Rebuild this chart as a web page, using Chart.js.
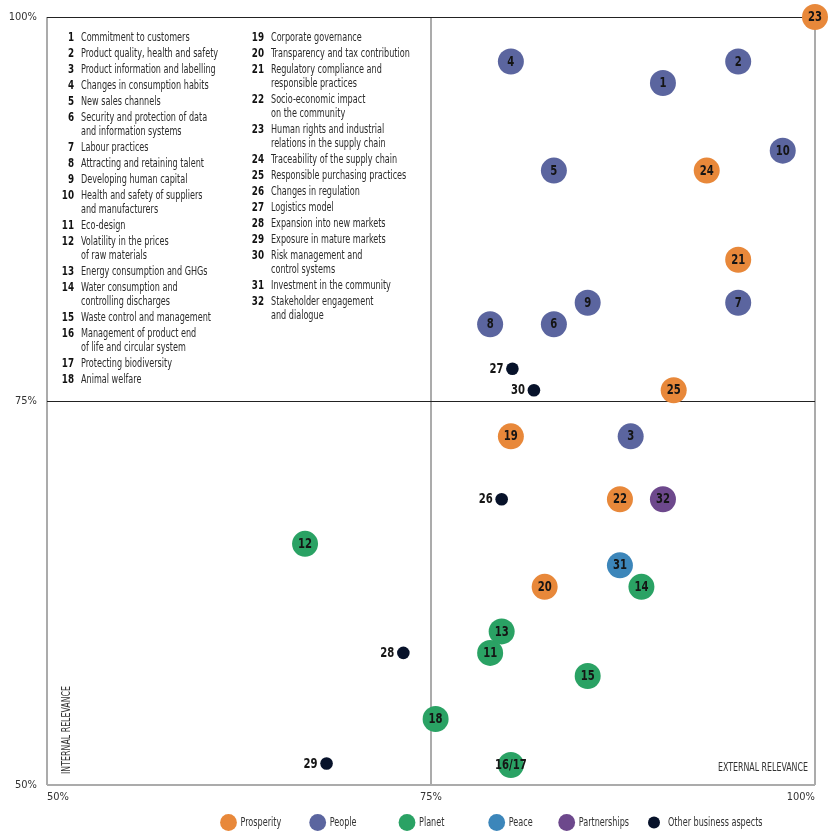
<!DOCTYPE html>
<html><head><meta charset="utf-8">
<script src="https://cdn.jsdelivr.net/npm/chart.js@4.4.1/dist/chart.umd.min.js"></script>
<style>html,body{margin:0;padding:0;background:#fff}#wrap{width:838px;height:838px;position:relative}</style>
</head><body><div id="wrap"><canvas id="c" width="838" height="838"></canvas></div>
<script>
const FONT = "'Liberation Sans Narrow','DejaVu Sans Condensed','Liberation Sans',sans-serif";

// ---- data ----
const groupNames = ['Prosperity','People','Planet','Peace','Partnerships','Other business aspects'];
const groupColors = ['#E8883A','#5B659F','#2AA264','#3C86BA','#6D488C','#07122A'];

const pointIds = ['1','2','3','4','5','6','7','8','9','10','11','12','13','14','15','16/17','18','19','20','21','22','23','24','25','26','27','28','29','30','31','32'];
const externalRel = [90.1,95.0,88.0,80.2,83.0,83.0,95.0,78.85,85.2,97.9,78.85,66.8,79.6,88.7,85.2,80.2,75.3,80.2,82.4,95.0,87.3,100,92.95,90.8,79.6,80.3,73.2,68.2,81.7,87.3,90.1];
const internalRel = [95.7,97.1,72.7,97.1,90.0,80.0,81.4,80.0,81.4,91.3,58.6,65.7,60.0,62.9,57.1,51.3,54.3,72.7,62.9,84.2,68.6,100,90.0,75.7,68.6,77.1,58.6,51.4,75.7,64.3,68.6];
const pointGroup = [1,1,1,1,1,1,1,1,1,1,2,2,2,2,2,2,2,0,0,0,0,0,0,0,5,5,5,5,5,3,4];

const axisTicks = [50,75,100];

const keyNums = ['1','2','3','4','5','6','7','8','9','10','11','12','13','14','15','16','17','18','19','20','21','22','23','24','25','26','27','28','29','30','31','32'];
const keyTexts = [
 'Commitment to customers',
 'Product quality, health and safety',
 'Product information and labelling',
 'Changes in consumption habits',
 'New sales channels',
 'Security and protection of data\nand information systems',
 'Labour practices',
 'Attracting and retaining talent',
 'Developing human capital',
 'Health and safety of suppliers\nand manufacturers',
 'Eco-design',
 'Volatility in the prices\nof raw materials',
 'Energy consumption and GHGs',
 'Water consumption and\ncontrolling discharges',
 'Waste control and management',
 'Management of product end\nof life and circular system',
 'Protecting biodiversity',
 'Animal welfare',
 'Corporate governance',
 'Transparency and tax contribution',
 'Regulatory compliance and\nresponsible practices',
 'Socio-economic impact\non the community',
 'Human rights and industrial\nrelations in the supply chain',
 'Traceability of the supply chain',
 'Responsible purchasing practices',
 'Changes in regulation',
 'Logistics model',
 'Expansion into new markets',
 'Exposure in mature markets',
 'Risk management and\ncontrol systems',
 'Investment in the community',
 'Stakeholder engagement\nand dialogue'
];
const xTitle = 'EXTERNAL RELEVANCE';
const yTitle = 'INTERNAL RELEVANCE';

// ---- build datasets ----
const datasets = groupNames.map((name, g) => {
  const small = g === 5;
  const data = [];
  pointIds.forEach((id, i) => { if (pointGroup[i] === g) data.push({x: externalRel[i], y: internalRel[i], id}); });
  return {
    label: name, data, small,
    backgroundColor: groupColors[g], borderWidth: 0,
    pointRadius: small ? 6.3 : 13, pointHoverRadius: small ? 6.3 : 13,
    clip: false
  };
});

function txt(ctx, s, x, y, align, font, color, sx) {
  ctx.save();
  ctx.font = font; ctx.fillStyle = color; ctx.textBaseline = 'middle'; ctx.textAlign = align;
  ctx.translate(x, y); ctx.scale(sx || 1, 1);
  ctx.fillText(s, 0, 0);
  ctx.restore();
}

const labelPlugin = {
  id: 'labels',
  afterDatasetsDraw(chart) {
    const ctx = chart.ctx;
    chart.data.datasets.forEach((ds, di) => {
      const meta = chart.getDatasetMeta(di);
      meta.data.forEach((el, i) => {
        const id = ds.data[i].id;
        if (ds.small) txt(ctx, id, el.x - 9, el.y + 0.5, 'right', 'bold 14px ' + FONT, '#151515', 0.8);
        else txt(ctx, id, el.x, el.y + 0.5, 'center', 'bold 14px ' + FONT, '#151515', 0.8);
      });
    });
  },
  afterDraw(chart) {
    const ctx = chart.ctx;
    const a = chart.chartArea;
    // key list
    const cols = [{nx: 74, tx: 81, y: 38}, {nx: 264, tx: 271, y: 38}];
    keyNums.forEach((n, i) => {
      const c = cols[i < 18 ? 0 : 1];
      const lines = keyTexts[i].split('\n');
      txt(ctx, n, c.nx, c.y, 'right', 'bold 12.5px ' + FONT, '#111', 0.78);
      lines.forEach((l, k) => {
        txt(ctx, l, c.tx, c.y + k * 14, 'left', '12.5px ' + FONT, '#2b2b2b', 0.72);
      });
      c.y += 16 + (lines.length - 1) * 14;
    });
    // axis titles
    txt(ctx, xTitle, a.right - 7, a.bottom - 17, 'right', '12px ' + FONT, '#333', 0.73);
    ctx.save();
    ctx.translate(a.left + 20, a.bottom - 11);
    ctx.rotate(-Math.PI / 2);
    txt(ctx, yTitle, 0, 0, 'left', '12px ' + FONT, '#333', 0.73);
    ctx.restore();
    // legend
    const lx = [228.5, 317.7, 407, 496.7, 566.7, 654];
    const ly = 822.5;
    groupNames.forEach((name, g) => {
      ctx.save();
      ctx.beginPath();
      ctx.fillStyle = groupColors[g];
      ctx.arc(lx[g], ly, g === 5 ? 6 : 8.4, 0, Math.PI * 2);
      ctx.fill();
      ctx.restore();
      txt(ctx, name, lx[g] + (g === 5 ? 14 : 12), ly, 'left', '12.5px ' + FONT, '#333', 0.72);
    });
  }
};

const gridColorX = c => '#ababab';
const gridColorY = c => (c.tick && c.tick.value === 50) ? '#ababab' : '#222';
const gridWidthX = c => 2;
const gridWidthY = c => (c.tick && c.tick.value === 50) ? 2 : 1;

new Chart(document.getElementById('c'), {
  type: 'scatter',
  data: { datasets },
  options: {
    responsive: false, animation: false,
    layout: { padding: { top: 17, right: 23, left: 0, bottom: 0 } },
    plugins: { legend: { display: false }, tooltip: { enabled: false } },
    scales: {
      x: {
        type: 'linear', min: 50, max: 100,
        afterBuildTicks: s => { s.ticks = axisTicks.map(v => ({ value: v })); },
        afterFit: s => { s.height = 53; },
        ticks: { align: 'inner', padding: 6, maxRotation: 0, color: '#333', font: { size: 11, family: FONT }, callback: v => v + '%' },
        grid: { drawTicks: false, color: gridColorX, lineWidth: gridWidthX },
        border: { display: false }
      },
      y: {
        type: 'linear', min: 50, max: 100,
        afterBuildTicks: s => { s.ticks = axisTicks.map(v => ({ value: v })); },
        afterFit: s => { s.width = 47; },
        ticks: { padding: 10, color: '#333', font: { size: 11, family: FONT }, callback: v => v + '%' },
        grid: { drawTicks: false, color: gridColorY, lineWidth: gridWidthY },
        border: { display: false }
      }
    }
  },
  plugins: [labelPlugin]
});
</script>
</body></html>
